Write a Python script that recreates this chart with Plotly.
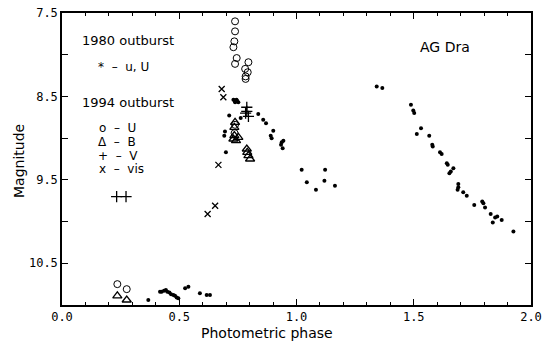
import plotly.graph_objects as go

# 1980 outburst (u, U) - filled dots
ph80 = [0.368, 0.418, 0.425, 0.435, 0.443, 0.449, 0.458, 0.465, 0.475, 0.482, 0.489, 0.496,
        0.525, 0.539, 0.588, 0.617, 0.631,
        0.713, 0.695, 0.692, 0.699, 0.762,
        0.731, 0.736, 0.741, 0.746, 0.752, 0.738, 0.744,
        0.837, 0.858, 0.870, 0.901, 0.890, 0.894, 0.937, 0.944, 0.934, 0.941,
        1.022, 1.044, 1.083, 1.122, 1.119, 1.164,
        1.342, 1.366, 1.488, 1.498, 1.502, 1.531, 1.513, 1.566, 1.579, 1.581,
        1.612, 1.619, 1.641, 1.645, 1.669, 1.658, 1.652, 1.690, 1.690, 1.687,
        1.711, 1.726, 1.758, 1.792, 1.797, 1.804, 1.828, 1.837, 1.847, 1.856,
        1.875, 1.925]
mag80 = [10.94, 10.84, 10.84, 10.83, 10.82, 10.84, 10.85, 10.87, 10.88, 10.89, 10.91, 10.92,
         10.80, 10.78, 10.86, 10.88, 10.88,
         8.73, 8.92, 8.97, 9.17, 8.76,
         8.54, 8.55, 8.56, 8.55, 8.57, 8.57, 8.54,
         8.71, 8.78, 8.82, 8.91, 8.97, 9.00, 9.05, 9.03, 9.08, 9.12,
         9.38, 9.53, 9.62, 9.38, 9.51, 9.57,
         8.38, 8.40, 8.60, 8.67, 8.70, 8.88, 8.95, 8.97, 9.08, 9.10,
         9.17, 9.19, 9.30, 9.32, 9.36, 9.40, 9.42, 9.55, 9.59, 9.62,
         9.65, 9.69, 9.80, 9.76, 9.78, 9.83, 9.91, 10.01, 9.95, 9.94,
         9.98, 10.12]

# 1994 outburst
phU = [0.738, 0.738, 0.735, 0.731, 0.745, 0.738, 0.795, 0.781, 0.792, 0.783, 0.783,
       0.738, 0.736, 0.236, 0.276]
magU = [7.60, 7.72, 7.84, 7.91, 8.04, 8.11, 8.09, 8.17, 8.21, 8.26, 8.29,
        8.84, 8.94, 10.75, 10.81]

phB = [0.738, 0.735, 0.735, 0.731, 0.742, 0.752, 0.788, 0.790, 0.795, 0.802, 0.236, 0.276]
magB = [8.81, 8.87, 8.97, 9.01, 9.03, 8.99, 9.13, 9.17, 9.21, 9.25, 10.89, 10.94]

phV = [0.788, 0.788, 0.795, 0.783, 0.233, 0.273]
magV = [8.63, 8.68, 8.74, 8.70, 9.70, 9.70]

phVis = [0.681, 0.688, 0.667, 0.621, 0.653]
magVis = [8.41, 8.51, 9.32, 9.91, 9.81]

x_ticks = [0.0, 0.5, 1.0, 1.5, 2.0]
y_ticks = [7.5, 8.5, 9.5, 10.5]

FONT = "DejaVu Sans Mono"
SANS = "DejaVu Sans"
fig = go.Figure()
fig.add_trace(go.Scatter(x=ph80, y=mag80, mode="markers",
                         marker=dict(symbol="circle", size=4, color="black")))
fig.add_trace(go.Scatter(x=phU, y=magU, mode="markers",
                         marker=dict(symbol="circle-open", size=7, color="black", line=dict(width=1))))
fig.add_trace(go.Scatter(x=phB, y=magB, mode="markers",
                         marker=dict(symbol="triangle-up-open", size=8, color="black", line=dict(width=1.3))))
fig.add_trace(go.Scatter(x=phV, y=magV, mode="markers",
                         marker=dict(symbol="cross-thin-open", size=8, color="black", line=dict(width=1.3))))
fig.add_trace(go.Scatter(x=phVis, y=magVis, mode="markers",
                         marker=dict(symbol="x-thin-open", size=6, color="black", line=dict(width=1.3))))

axis_common = dict(showline=True, linecolor="black", linewidth=1.5, mirror="allticks",
                   ticks="inside", ticklen=6, tickcolor="black", tickwidth=1,
                   showgrid=False, zeroline=False, automargin=False,
                   ticklabeloverflow="allow",
                   tickfont=dict(family=FONT, size=12, color="black"))
fig.update_xaxes(range=[0, 2], tickvals=x_ticks, ticktext=[f"{v:.1f}" for v in x_ticks],
                 minor=dict(ticks="inside", ticklen=3, dtick=0.1, tick0=0, tickcolor="black", showgrid=False),
                 **axis_common)
fig.update_yaxes(range=[11.0, 7.5], tickvals=y_ticks, ticktext=[f"{v:.1f}" for v in y_ticks],
                 minor=dict(ticks="inside", ticklen=6, dtick=0.5, tick0=7.5, tickcolor="black", showgrid=False),
                 **axis_common)

# plot-area edges in page pixels
L, R, T, B = 62, 531, 13, 305

def px(xp, yp):
    return (xp - L) / (R - L), (B - yp) / (B - T)

def note(xp, yp, text, size=13, anchor="left", angle=0):
    xx, yy = px(xp, yp)
    fig.add_annotation(x=xx, y=yy, xref="paper", yref="paper", text=text, showarrow=False,
                       xanchor=anchor, yanchor="middle", textangle=angle,
                       font=dict(family=SANS, size=size, color="black"))

note(80, 40, "1980 outburst", size=13)
note(80, 102, "1994 outburst", size=13)
for (xp, yp, t) in [(96, 67, "*  \u2013  u, U"),
                    (97, 128, "o  \u2013  U"),
                    (96, 142, "\u0394  \u2013  B"), (96, 156, "+  \u2013  V"),
                    (97, 169, "x  \u2013  vis")]:
    note(xp, yp, t, size=12)
note(418, 47, "AG Dra", size=14)
note(267, 333, "Photometric phase", size=14, anchor="center")
note(19, 161, "Magnitude", size=14, anchor="center", angle=-90)

fig.update_layout(width=549, height=345,
                  margin=dict(l=L, r=549 - R, t=T, b=345 - B, autoexpand=False),
                  plot_bgcolor="white", paper_bgcolor="white", showlegend=False)
fig.write_html("out.html", config={"displayModeBar": False},
               post_script="document.body.style.margin='0';document.body.style.overflow='hidden';")
